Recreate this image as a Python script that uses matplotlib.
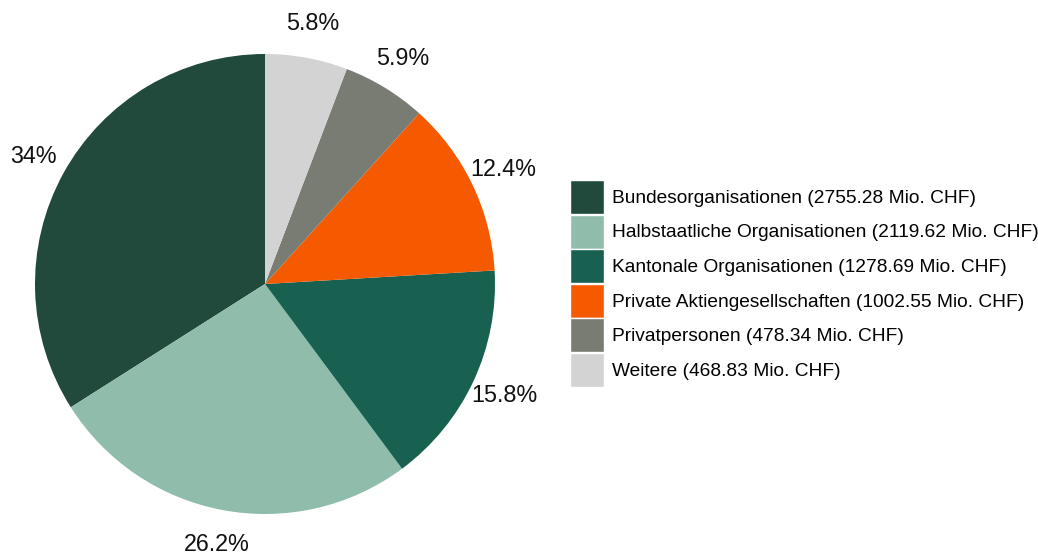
import matplotlib
matplotlib.use("Agg")
import matplotlib.pyplot as plt

plt.rcParams['font.family'] = ['Liberation Sans', 'DejaVu Sans']

# Daten
kategorien = ["Bundesorganisationen", "Halbstaatliche Organisationen",
              "Kantonale Organisationen", "Private Aktiengesellschaften",
              "Privatpersonen", "Weitere"]
werte = [2755.28, 2119.62, 1278.69, 1002.55, 478.34, 468.83]
prozent_labels = ["34%", "26.2%", "15.8%", "12.4%", "5.9%", "5.8%"]
farben = ["#214a3c", "#8fbcab", "#186150", "#f55a00", "#797c72", "#d3d3d3"]

fig = plt.figure(figsize=(10.38, 5.53), dpi=100)
W, H = 1038, 553
cx, cy, r = 265, 284, 230
ax = fig.add_axes([(cx - r) / W, (H - cy - r) / H, 2 * r / W, 2 * r / H])

wedges, texts = ax.pie(werte, labels=prozent_labels, colors=farben,
                       startangle=90, counterclock=True, radius=1,
                       labeldistance=1.15,
                       textprops={'fontsize': 16.8, 'color': '#111111',
                                  'ha': 'center', 'va': 'center'},
                       wedgeprops={'linewidth': 0})
for t in texts:
    t.set_ha('center')
    t.set_clip_on(False)
ax.set_xlim(-1, 1)
ax.set_ylim(-1, 1)
ax.set_aspect('equal')
ax.axis('off')

legend_labels = ["%s (%.2f Mio. CHF)" % (k, v) for k, v in zip(kategorien, werte)]
handles = [plt.Rectangle((0, 0), 1, 1, facecolor=c, edgecolor='white', linewidth=1.0)
           for c in farben]
fs = 13.75
px = fs * 100 / 72
box_h = 34 / px  # gewuenschte Kaestchenhoehe in Schriftgroessen
h_height = (box_h - 0.245) / 0.65
fig.legend(handles, legend_labels, loc='upper left',
           bbox_to_anchor=(570 / W, (H - 180) / H), frameon=False,
           fontsize=fs, handlelength=34 / px, handleheight=h_height,
           labelspacing=0.6 / px, handletextpad=8 / px,
           borderpad=0, borderaxespad=0)

fig.savefig("out.png", dpi=100)
